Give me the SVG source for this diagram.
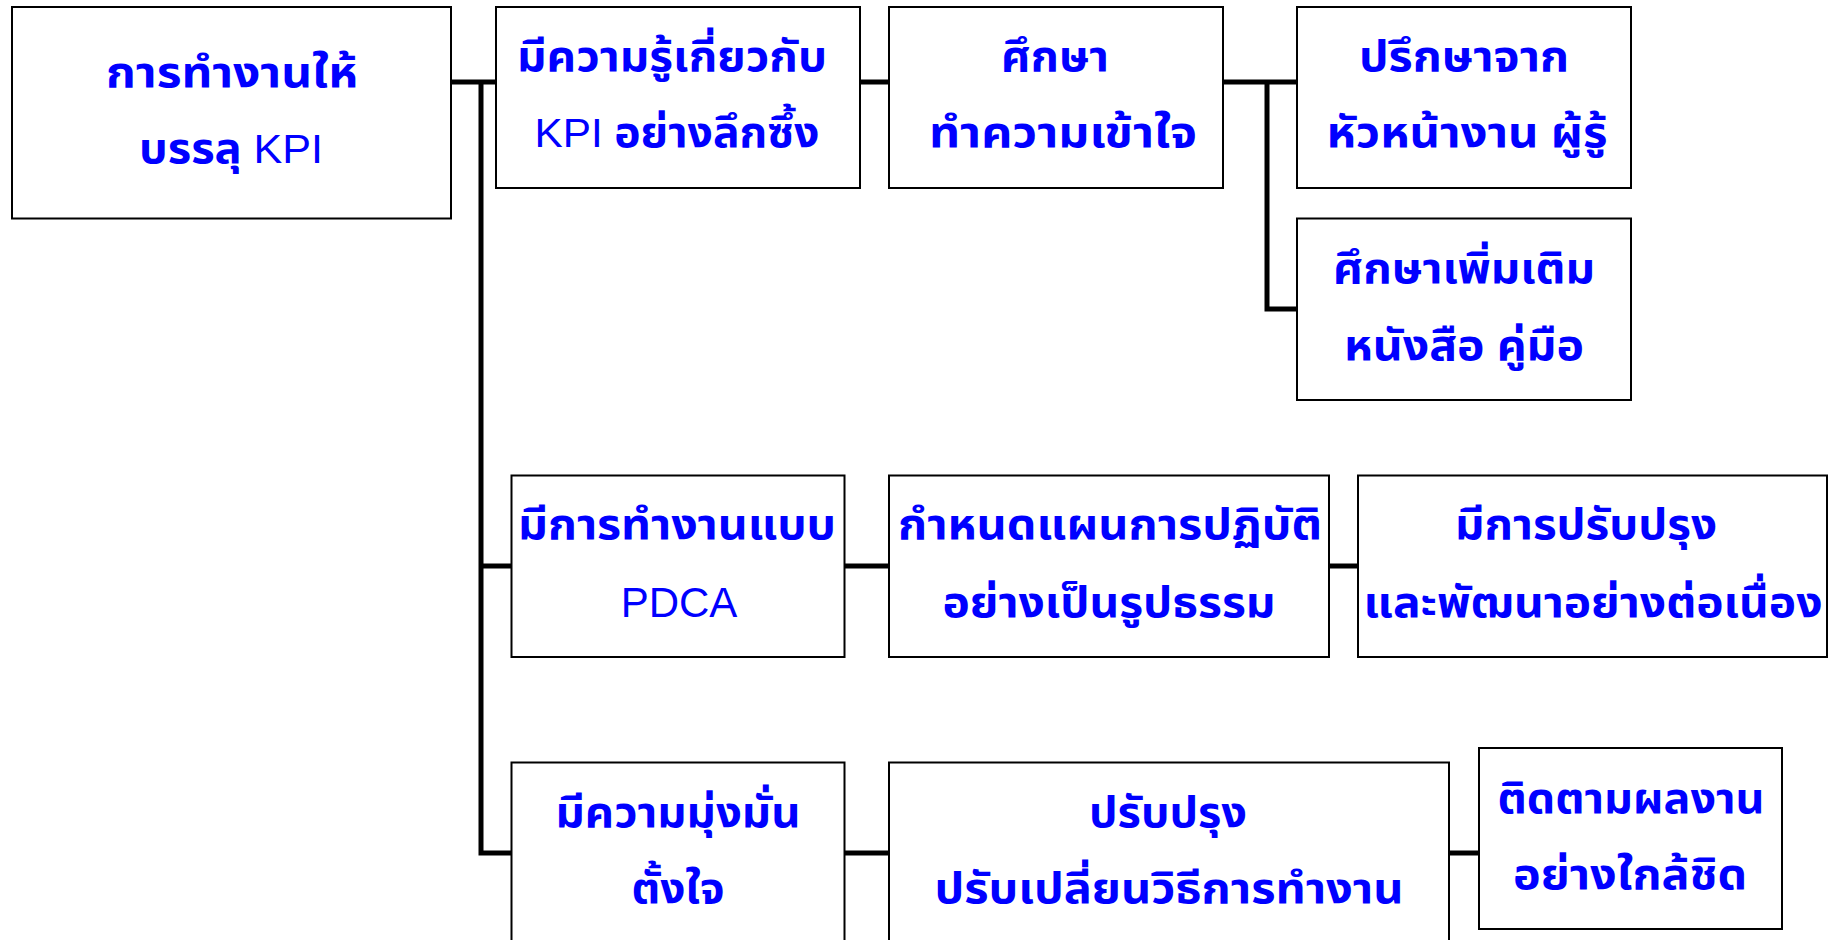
<svg xmlns="http://www.w3.org/2000/svg" width="1832" height="940" viewBox="0 0 1832 940">
<style>
.box{fill:#fff;stroke:#000;stroke-width:2}
.t{font-family:"Noto Sans Thai","Liberation Sans","Noto Sans",sans-serif;font-size:42px;font-weight:bold;fill:#0000FF;text-anchor:middle}
.l{font-family:"Liberation Sans",Arial,sans-serif;font-weight:normal}
.c{stroke:#000;stroke-width:5;fill:none;stroke-linecap:square}
</style>
<rect width="1832" height="940" fill="#fff"/>
<g id="connectors">
<path class="c" d="M451 82H496M481 84V853M481 566H511M481 853H511"/>
<path class="c" d="M860 82H889M1223 82H1297M1267 84V309H1297"/>
<path class="c" d="M844 566H889M1329 566H1358M844 853H889M1449 853H1479"/>
</g>
<g id="n-root"><rect class="box" x="12" y="7" width="439" height="211.5"/>
<text class="t" x="232" y="87" textLength="252" lengthAdjust="spacingAndGlyphs">การทำงานให้</text>
<text class="t" x="231" y="163" textLength="184" lengthAdjust="spacingAndGlyphs">บรรลุ <tspan class="l" font-size="40">KPI</tspan></text></g>
<g id="n-a"><rect class="box" x="496" y="7" width="364" height="181"/>
<text class="t" x="672" y="71" textLength="310" lengthAdjust="spacingAndGlyphs">มีความรู้เกี่ยวกับ</text>
<text class="t" x="677" y="147" textLength="285" lengthAdjust="spacingAndGlyphs"><tspan class="l" font-size="40">KPI</tspan> อย่างลึกซึ้ง</text></g>
<g id="n-b"><rect class="box" x="889" y="7" width="334" height="181"/>
<text class="t" x="1055" y="71" textLength="108" lengthAdjust="spacingAndGlyphs">ศึกษา</text>
<text class="t" x="1063" y="147" textLength="268" lengthAdjust="spacingAndGlyphs">ทำความเข้าใจ</text></g>
<g id="n-c"><rect class="box" x="1297" y="7" width="334" height="181"/>
<text class="t" x="1464" y="71" textLength="210" lengthAdjust="spacingAndGlyphs">ปรึกษาจาก</text>
<text class="t" x="1467" y="147" textLength="281" lengthAdjust="spacingAndGlyphs">หัวหน้างาน ผู้รู้</text></g>
<g id="n-d"><rect class="box" x="1297" y="218.5" width="334" height="181.5"/>
<text class="t" x="1464" y="283" textLength="262" lengthAdjust="spacingAndGlyphs">ศึกษาเพิ่มเติม</text>
<text class="t" x="1464" y="360" textLength="240" lengthAdjust="spacingAndGlyphs">หนังสือ คู่มือ</text></g>
<g id="n-e"><rect class="box" x="511.5" y="475.5" width="333" height="181.5"/>
<text class="t" x="677" y="539" textLength="318" lengthAdjust="spacingAndGlyphs">มีการทำงานแบบ</text>
<text class="t l" x="679" y="617">PDCA</text></g>
<g id="n-f"><rect class="box" x="889" y="475.5" width="440" height="181.5"/>
<text class="t" x="1110" y="539" textLength="424" lengthAdjust="spacingAndGlyphs">กำหนดแผนการปฏิบัติ</text>
<text class="t" x="1109" y="617" textLength="333" lengthAdjust="spacingAndGlyphs">อย่างเป็นรูปธรรม</text></g>
<g id="n-g"><rect class="box" x="1358" y="475.5" width="469" height="181.5"/>
<text class="t" x="1586" y="539" textLength="262" lengthAdjust="spacingAndGlyphs">มีการปรับปรุง</text>
<text class="t" x="1593" y="617" textLength="459" lengthAdjust="spacingAndGlyphs">และพัฒนาอย่างต่อเนื่อง</text></g>
<g id="n-h"><rect class="box" x="511.5" y="762.5" width="333" height="183"/>
<text class="t" x="678" y="827" textLength="245" lengthAdjust="spacingAndGlyphs">มีความมุ่งมั่น</text>
<text class="t" x="678" y="903" textLength="93" lengthAdjust="spacingAndGlyphs">ตั้งใจ</text></g>
<g id="n-i"><rect class="box" x="889" y="762.5" width="560" height="183"/>
<text class="t" x="1168" y="827" textLength="158" lengthAdjust="spacingAndGlyphs">ปรับปรุง</text>
<text class="t" x="1169" y="903" textLength="469" lengthAdjust="spacingAndGlyphs">ปรับเปลี่ยนวิธีการทำงาน</text></g>
<g id="n-j"><rect class="box" x="1479" y="748" width="303" height="181"/>
<text class="t" x="1631" y="813" textLength="267" lengthAdjust="spacingAndGlyphs">ติดตามผลงาน</text>
<text class="t" x="1630" y="889" textLength="234" lengthAdjust="spacingAndGlyphs">อย่างใกล้ชิด</text></g>
</svg>
